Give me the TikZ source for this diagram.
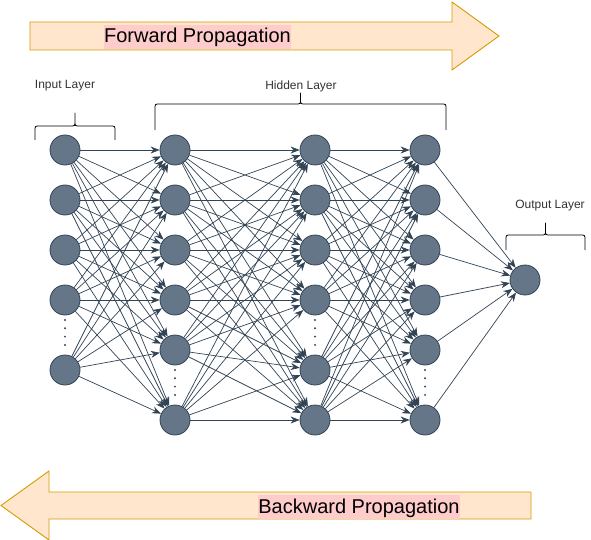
\documentclass[tikz,border=0pt]{standalone}
\usepackage{fontspec}
\setmainfont{Liberation Sans}
\usepackage{xcolor}
\usepackage{tikz}
\usetikzlibrary{arrows.meta}

\definecolor{neuronfill}{HTML}{647687}
\definecolor{neuronline}{HTML}{314354}
\definecolor{bannerfill}{HTML}{FFE6CC}
\definecolor{bannerline}{HTML}{D79B00}
\definecolor{textmark}{HTML}{FFCCCC}

\begin{document}
\begin{tikzpicture}%
        [x=1pt, y=-1pt,
        neuron/.style={circle, minimum size=30pt, inner sep=0pt, fill=neuronfill, draw=neuronline, line width=0.8pt},
        link/.style={color=neuronline, line width=0.7pt, -{Stealth[length=9pt,width=7pt]}},
        banner/.style={fill=bannerfill, draw=bannerline, line width=0.9pt, line join=miter},
        bannertext/.style={fill=textmark, font=\fontsize{20}{24}\selectfont, text height=16pt, text depth=4pt, inner xsep=0.5pt, inner ysep=2pt},
        layertext/.style={font=\fontsize{12}{14}\selectfont, text=black!80},
        curly/.style={black, line width=0.8pt, line join=round}]
    \useasboundingbox (0,0) rectangle (591,540);
    %% Drawing the propagation arrows
    \draw[banner] (30,22) -- (452,22) -- (452,2) -- (499,36) -- (452,70) -- (452,50) -- (30,50) -- cycle;
    \draw[banner] (531,492) -- (49,492) -- (49,471) -- (1,505.5) -- (49,540) -- (49,519) -- (531,519) -- cycle;
    \node[bannertext] (fwd) at (197.5,37) {Forward Propagation};
    \node[bannertext] (bwd) at (359,507) {Backward Propagation};
    %%
    %% Layer labels and braces
    %%
    \node[layertext] (inputlbl) at (65,86) {Input Layer};
    \node[layertext] (hiddenlbl) at (301,86) {Hidden Layer};
    \node[layertext] (outputlbl) at (550,206) {Output Layer};
    \draw[curly] (35,140) -- (35,131) .. controls (35,126) .. (40,126) -- (70,126) .. controls (75,126) .. (75,121) -- (75,113) -- (75,121) .. controls (75,126) .. (80,126) -- (110,126) .. controls (115,126) .. (115,131) -- (115,140);
    \draw[curly] (155,130) -- (155,109) .. controls (155,104) .. (160,104) -- (295.5,104) .. controls (300.5,104) .. (300.5,99) -- (300.5,93) -- (300.5,99) .. controls (300.5,104) .. (305.5,104) -- (441,104) .. controls (446,104) .. (446,109) -- (446,130);
    \draw[curly] (506,250) -- (506,240) .. controls (506,235) .. (511,235) -- (540.5,235) .. controls (545.5,235) .. (545.5,230) -- (545.5,223) -- (545.5,230) .. controls (545.5,235) .. (550.5,235) -- (580,235) .. controls (585,235) .. (585,240) -- (585,250);
    %%
    %% Drawing the neurons
    %%
    \foreach \y [count=\i] in {150,200,250,300,370} \node[neuron] (in\i) at (65,\y) {};
    \foreach \y [count=\i] in {150,200,250,300,350,420} \node[neuron] (ha\i) at (175,\y) {};
    \foreach \y [count=\i] in {150,200,250,300,370,420} \node[neuron] (hb\i) at (315,\y) {};
    \foreach \y [count=\i] in {150,200,250,300,350,420} \node[neuron] (hc\i) at (425,\y) {};
    \node[neuron] (out) at (525,280) {};
    \foreach \x/\y in {65/320, 175/370, 315/320, 425/370}
        \foreach \d in {0,...,3} \fill[neuronline] (\x,\y+8.3*\d) circle[radius=1.1pt];
    %%
    %% Weights between the layers
    %%
    \foreach \i in {1,...,5} \foreach \j in {1,...,6} \draw[link] (in\i) -- (ha\j);
    \foreach \i in {1,...,6} \foreach \j in {1,...,6} {\draw[link] (ha\i) -- (hb\j); \draw[link] (hb\i) -- (hc\j);}
    \foreach \i in {1,...,6} \draw[link] (hc\i) -- (out);
\end{tikzpicture}
\end{document}
